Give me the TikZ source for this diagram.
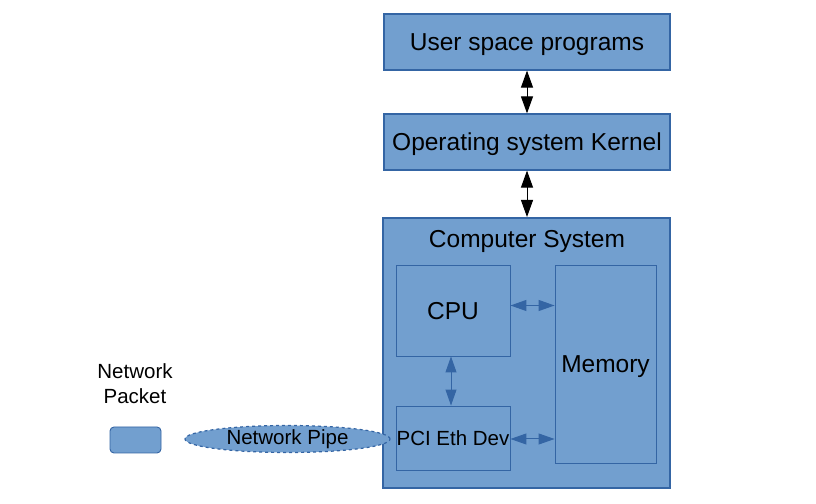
\documentclass[tikz,border=0pt]{standalone}
\usepackage{fontspec}
\setmainfont{Liberation Sans}
\usetikzlibrary{positioning, arrows.meta, shapes.geometric}
\definecolor{boxfill}{RGB}{114,159,207}
\definecolor{boxline}{RGB}{52,101,164}

\begin{document}
\begin{tikzpicture}[
			x=1bp,
			y=1bp,
			bigtext/.style={
				font=\fontsize{24.5bp}{29bp}\selectfont,
				text depth=0pt
			},
			smalltext/.style={
				font=\fontsize{20.5bp}{25bp}\selectfont
			},
			layer/.style={
				draw=boxline,
				fill=boxfill,
				line width=1.2bp,
				inner sep=0pt,
				bigtext
			},
			part/.style={
				draw=boxline,
				line width=0.9bp,
				inner sep=0pt
			},
			blackarrow/.style={
				{Triangle[length=17bp,width=12bp]}-{Triangle[length=17bp,width=12bp]},
				line width=1bp,
				black
			},
			bluearrow/.style={
				{Triangle[length=16bp,width=11bp]}-{Triangle[length=16bp,width=11bp]},
				line width=1bp,
				boxline
			}
			]
			\useasboundingbox (0,0) rectangle (816,504);
			
			% Layers
			\node[layer, minimum width=286bp, minimum height=56bp] (user) at (527,462) {User space programs};
			\node[layer, minimum width=286bp, minimum height=56bp] (kernel) at (527,362) {Operating system Kernel};
			\node[layer, minimum width=287bp, minimum height=270bp, line width=2bp] (system) at (526.5,151) {};
			\node[bigtext, anchor=center] (systemlabel) at (527,265) {Computer System};
			
			% Parts
			\node[part, bigtext, minimum width=114bp, minimum height=91bp] (cpu) at (453,193.5) {CPU};
			\node[part, bigtext, minimum width=101bp, minimum height=198bp] (memory) at (605.5,140) {Memory};
			\node[part, smalltext, minimum width=114bp, minimum height=64bp] (pci) at (453,66) {PCI Eth Dev};
			
			% Network
			\node[smalltext, align=center] (packetlabel) at (135,120) {Network\\Packet};
			\node[draw=boxline, fill=boxfill, line width=0.9bp, rounded corners=4bp,
				minimum width=51bp, minimum height=26bp] (packet) at (135.5,64) {};
			\node[ellipse, draw=boxline, fill=boxfill, dashed, line width=1.2bp, inner sep=0pt,
				minimum width=205bp, minimum height=26bp, smalltext] (pipe) at (287.5,65) {Network Pipe};
			
			% Connections
			\draw[blackarrow] (user.south) -- (kernel.north);
			\draw[blackarrow] (kernel.south) -- (system.north -| kernel.south);
			\draw[bluearrow] ([yshift=5bp]cpu.east) -- ([yshift=5bp]cpu.east -| memory.west);
			\draw[bluearrow] ([yshift=-1bp]pci.east) -- ([yshift=-1bp]pci.east -| memory.west);
			\draw[bluearrow] ([xshift=-2bp]cpu.south) -- ([xshift=-2bp]pci.north);
		\end{tikzpicture}
\end{document}
